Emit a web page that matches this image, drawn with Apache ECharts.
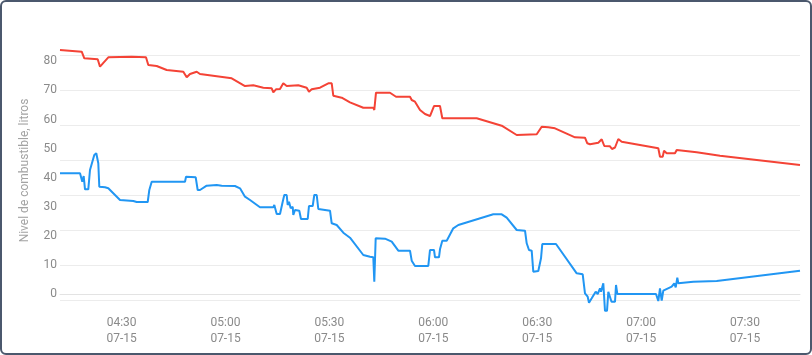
<!DOCTYPE html>
<html>
<head>
<meta charset="utf-8">
<script src="https://cdn.jsdelivr.net/npm/echarts@6/dist/echarts.min.js"></script>
<style>
  html, body { margin: 0; padding: 0; background: #fff; }
  #wrap { position: relative; width: 812px; height: 355px; }
  #chart { width: 812px; height: 355px; }
  #frame {
    position: absolute; left: 0; top: 0; width: 812px; height: 355px;
    box-sizing: border-box; border: 2px solid #4b586d; border-radius: 6px;
    pointer-events: none;
  }
</style>
</head>
<body>
<div id="wrap">
  <div id="chart"></div>
  <div id="frame"></div>
</div>
<script>
// minutos desde medianoche (07-15) y litros
const redTimes = [252.2, 258.47, 259.22, 263.09, 263.75, 266.15, 272.9, 277.03, 277.7, 280.12,
  283.01, 287.81, 288.79, 289.74, 291.68, 292.63, 301.78, 305.62, 308.02, 310.91,
  313.33, 313.8, 314.57, 315.73, 316.68, 317.66, 321.01, 323.44, 324.1, 324.88,
  327.28, 329.68, 330.66, 331.12, 333.55, 335.94, 339.78, 342.67, 342.96, 343.45,
  347.49, 349.23, 353.27, 353.76, 354.71, 356.16, 357.6, 359.04, 360.2, 361.93,
  362.6, 372.53, 379.75, 384.08, 389.86, 391.3, 393.21, 395.14, 400.92, 403.8,
  404.47, 405.25, 407.65, 408.63, 409.38, 411.02, 411.6, 412.47, 413.42, 414.4,
  424.97, 425.46, 426.24, 426.62, 427.4, 429.79, 430.28, 436.06, 436.52, 442.79, 465.89];
const redValues = [83.85, 83.26, 81.0, 80.66, 78.12, 81.34, 81.55, 81.34, 78.7, 78.36,
  76.99, 76.41, 74.49, 75.62, 76.41, 75.62, 74.14, 71.5, 71.74, 70.92,
  70.71, 69.34, 70.37, 70.47, 72.43, 71.5, 71.74, 70.92, 69.55, 70.37,
  70.92, 72.43, 72.43, 68.18, 67.49, 65.91, 64.06, 64.06, 63.27, 69.2,
  69.2, 67.83, 67.83, 66.7, 66.12, 63.27, 61.9, 61.21, 64.64, 64.64,
  60.43, 60.43, 57.89, 54.7, 54.94, 57.54, 57.34, 57.0, 53.91, 53.77,
  51.85, 51.51, 52.06, 53.22, 50.93, 50.82, 49.9, 50.41, 53.33, 52.4,
  50.14, 47.26, 47.26, 49.31, 48.42, 48.42, 49.55, 48.77, 48.18, 47.6, 44.41];

const blueTimes = [252.2, 257.98, 258.47, 258.64, 259.04, 259.42, 260.37, 260.86, 261.35, 262.1,
  262.68, 263.26, 263.55, 265.2, 266.15, 269.53, 273.37, 274.35, 277.53, 277.99,
  278.68, 288.3, 288.59, 291.39, 291.96, 292.63, 294.56, 297.45, 298.89, 302.73,
  304.18, 305.62, 307.07, 309.95, 313.8, 314.08, 314.78, 315.73, 316.51, 316.97,
  317.66, 317.95, 318.33, 318.82, 319.4, 319.57, 320.06, 321.3, 321.79, 323.73,
  324.1, 325.17, 325.63, 326.33, 326.79, 330.17, 330.66, 332.1, 334.01, 335.94,
  339.78, 341.72, 342.67, 342.96, 343.36, 346.05, 347.99, 349.89, 353.27, 353.76,
  354.71, 358.55, 359.04, 360.2, 360.49, 361.64, 361.93, 362.6, 363.87, 365.77,
  367.22, 377.32, 379.75, 381.19, 384.08, 386.48, 386.97, 387.63, 388.41, 388.87,
  390.32, 391.1, 391.47, 395.43, 401.41, 403.14, 403.8, 404.58, 404.96, 405.74,
  406.2, 406.89, 407.47, 408.14, 408.43, 409.09, 409.38, 409.58, 410.16, 410.54,
  411.11, 411.46, 412.47, 412.76, 413.14, 424.31, 424.97, 425.46, 425.95, 426.42,
  428.84, 429.59, 430.0, 430.46, 430.75, 435.08, 441.84, 465.89];
const blueValues = [41.56, 41.56, 41.91, 38.68, 40.64, 36.08, 36.08, 42.7, 42.7, 47.84,
  48.42, 44.99, 36.97, 36.76, 36.42, 32.41, 32.06, 31.72, 31.72, 35.84,
  38.68, 38.68, 40.4, 40.19, 35.84, 35.84, 37.31, 37.55, 37.31, 37.21,
  36.42, 33.54, 32.41, 29.9, 29.9, 30.69, 27.61, 27.61, 31.82, 34.12,
  34.12, 30.69, 31.82, 29.56, 30.11, 27.26, 28.98, 28.74, 25.89, 25.89,
  30.35, 30.35, 34.12, 34.12, 29.32, 28.74, 24.42, 23.83, 21.19, 19.48,
  13.55, 12.96, 12.76, 4.39, 19.27, 19.14, 18.11, 15.02, 15.02, 11.59,
  9.77, 9.77, 15.26, 15.26, 12.76, 12.76, 15.5, 18.45, 18.45, 22.7,
  23.83, 27.5, 27.5, 26.34, 22.12, 21.88, 17.56, 15.26, 15.02, 7.82,
  8.06, 12.41, 17.32, 17.32, 7.27, 6.93, 0.41, -0.75, -2.81, -1.3,
  -1.89, 0.96, 0.17, 2.13, 0.96, 3.84, 3.84, -5.6, -5.6, 0.96,
  0.96, -2.47, -2.47, 3.26, 0.17, 0.17, -2.23, 2.13, -2.13, 1.3,
  2.67, 3.84, 2.47, 5.76, 3.84, 4.39, 4.63, 8.16];

const yTicks = [0, 10, 20, 30, 40, 50, 60, 70, 80];
const xTicks = [270, 300, 330, 360, 390, 420, 450]; // 04:30 ... 07:30
const dayLabel = '07-15';

function pad(n) { return (n < 10 ? '0' : '') + n; }
function fmtTime(m) {
  const mm = Math.round(m);
  return pad(Math.floor(mm / 60)) + ':' + pad(mm % 60);
}
function zip(a, b) { return a.map((t, i) => [t, b[i]]); }

const chart = echarts.init(document.getElementById('chart'));
const textFont = { fontFamily: 'Roboto', fontSize: 12 };

const option = {
  animation: false,
  grid: [
    { left: 60, right: 12, top: 30, bottom: 44 },
    { left: 60, right: 12, top: 55, bottom: 55 }
  ],
  xAxis: [
    {
      type: 'value',
      gridIndex: 0,
      min: 252.2,
      max: 465.89,
      axisLine: { show: true, lineStyle: { color: '#e3e3e3', width: 1 } },
      axisTick: { show: false },
      splitLine: { show: false },
      axisLabel: {
        ...textFont,
        color: '#8a8a8a',
        margin: 4,
        lineHeight: 16,
        customValues: xTicks,
        formatter: v => fmtTime(v) + '\n' + dayLabel
      }
    },
    { type: 'value', gridIndex: 1, min: 0, max: 1, show: false }
  ],
  yAxis: [
    {
      type: 'value',
      gridIndex: 0,
      min: -5.66,
      max: 90.71,
      name: 'Nivel de combustible, litros',
      nameLocation: 'middle',
      nameGap: 29,
      nameTextStyle: { ...textFont, color: '#a3a3a3' },
      axisLine: { show: false },
      axisTick: { show: false },
      splitLine: { show: false },
      axisLabel: {
        ...textFont,
        color: '#8a8a8a',
        margin: 3,
        customValues: yTicks
      }
    },
    {
      type: 'value',
      gridIndex: 1,
      min: 0,
      max: 7,
      interval: 1,
      axisLine: { show: false },
      axisTick: { show: false },
      axisLabel: { show: false },
      splitLine: { show: true, lineStyle: { color: '#ececec', width: 1 } }
    }
  ],
  series: [
    {
      name: 'Tanque 1',
      type: 'line',
      xAxisIndex: 0,
      yAxisIndex: 0,
      showSymbol: false,
      data: zip(redTimes, redValues),
      lineStyle: { color: '#f44336', width: 2 },
      itemStyle: { color: '#f44336' }
    },
    {
      name: 'Tanque 2',
      type: 'line',
      xAxisIndex: 0,
      yAxisIndex: 0,
      showSymbol: false,
      data: zip(blueTimes, blueValues),
      lineStyle: { color: '#2196f3', width: 2 },
      itemStyle: { color: '#2196f3' }
    }
  ]
};
chart.setOption(option);
</script>
</body>
</html>
